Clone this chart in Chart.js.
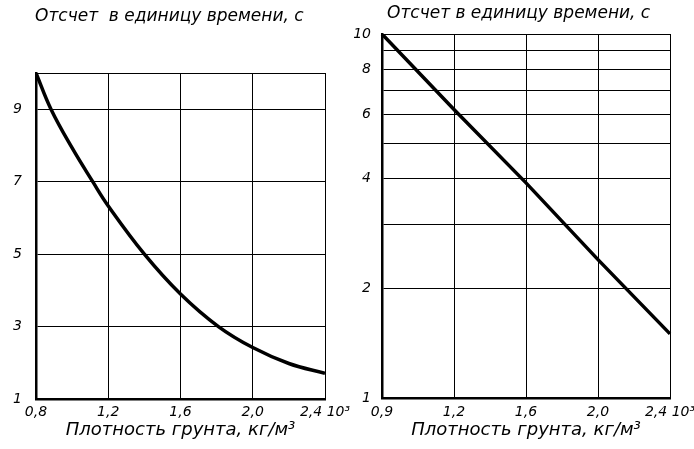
<!DOCTYPE html>
<html>
<head>
<meta charset="utf-8">
<script src="https://cdn.jsdelivr.net/npm/chart.js@4.4.0/dist/chart.umd.min.js"></script>
<style>
  html, body { margin: 0; padding: 0; background: #fff; overflow: hidden; }
  .panel { position: absolute; top: 0; height: 449px; }
  #left { left: 0; width: 362px; }
  #right { left: 347px; width: 347px; }
</style>
</head>
<body>
<div class="panel" id="left"><canvas id="left-chart" width="362" height="449"></canvas></div>
<div class="panel" id="right"><canvas id="right-chart" width="347" height="449"></canvas></div>
<script>
// left panel: linear scales
const leftDensity = [0.8, 0.883, 1.0, 1.114, 1.2, 1.4, 1.6, 1.81, 2.0, 2.2, 2.4];
const leftCount = [10, 9, 7.93, 7, 6.33, 5.0, 3.9, 3.0, 2.42, 1.98, 1.71];
const leftXTicks = [0.8, 1.2, 1.6, 2.0, 2.4];
const leftXLabels = ['0,8', '1,2', '1,6', '2,0', '2,4 10³'];
const leftYTicks = [1, 3, 5, 7, 9, 10];
const leftYLabels = ['1', '3', '5', '7', '9', ''];

// right panel: logarithmic count axis
const rightXLabels = ['0,9', '1,2', '1,6', '2,0', '2,4 10³'];
const rightCount = [10, 6.2, 3.9, 2.4, 1.5];
const rightYTicks = [1, 2, 3, 4, 5, 6, 7, 8, 9, 10];
const rightYLabels = ['1', '2', '', '4', '', '6', '', '8', '', '10'];

const titleText = ['Отсчет  в единицу времени, с', 'Отсчет в единицу времени, с'];
const axisText = 'Плотность грунта, кг/м³';

const fontFamily = "'DejaVu Sans', sans-serif";
Chart.defaults.font.family = fontFamily;
Chart.defaults.font.style = 'italic';
Chart.defaults.color = '#000';

function fixSize(w, h) {
    return function(scale) {
        if (w !== null) scale.width = w;
        if (h !== null) scale.height = h;
        scale.paddingLeft = 0;
        scale.paddingRight = 0;
        scale.paddingTop = 0;
        scale.paddingBottom = 0;
    };
}

// move the chart title so it starts at a given x
function titleAt(x) {
    return { id: 'titleShift', beforeDraw: chart => { chart.titleBlock.left = x; } };
}

const grid = { color: '#000', lineWidth: 1, drawTicks: false };
const border = { color: '#000', width: 2.5 };

new Chart(document.getElementById('left-chart'), {
    type: 'line',
    data: {
        datasets: [{
            data: leftDensity.map((x, i) => ({ x: x, y: leftCount[i] })),
            borderColor: '#000',
            borderWidth: 3.5,
            pointRadius: 0,
            tension: 0.4,
            fill: false
        }]
    },
    options: {
        responsive: false,
        animation: false,
        layout: { padding: { left: 0, right: 37, top: 0, bottom: 0 } },
        plugins: {
            legend: { display: false },
            tooltip: { enabled: false },
            title: {
                display: true,
                text: titleText[0],
                align: 'start',
                font: { size: 17, style: 'italic', weight: 'normal' },
                padding: { top: 6, bottom: 46.6 }
            }
        },
        scales: {
            x: {
                type: 'linear',
                min: 0.8,
                max: 2.4,
                afterBuildTicks: scale => { scale.ticks = leftXTicks.map(v => ({ value: v })); },
                afterFit: fixSize(null, 50),
                ticks: {
                    padding: 5,
                    maxRotation: 0,
                    autoSkip: false,
                    font: { size: 14, style: 'italic' },
                    callback: (v, i) => leftXLabels[i]
                },
                grid: grid,
                border: border,
                title: {
                    display: true,
                    text: axisText,
                    font: { size: 18, style: 'italic' },
                    padding: { top: 0, bottom: 8 }
                }
            },
            y: {
                type: 'linear',
                min: 1,
                max: 10,
                afterBuildTicks: scale => { scale.ticks = leftYTicks.map(v => ({ value: v })); },
                afterFit: fixSize(36, null),
                ticks: {
                    padding: 14,
                    autoSkip: false,
                    font: { size: 14, style: 'italic' },
                    callback: (v, i) => leftYLabels[i]
                },
                grid: grid,
                border: border
            }
        }
    },
    plugins: [titleAt(35)]
});

new Chart(document.getElementById('right-chart'), {
    type: 'line',
    data: {
        labels: rightXLabels,
        datasets: [{
            data: rightCount,
            borderColor: '#000',
            borderWidth: 3.5,
            pointRadius: 0,
            tension: 0,
            fill: false
        }]
    },
    options: {
        responsive: false,
        animation: false,
        layout: { padding: { left: 0, right: 24, top: 0, bottom: 0 } },
        plugins: {
            legend: { display: false },
            tooltip: { enabled: false },
            title: {
                display: true,
                text: titleText[1],
                align: 'start',
                font: { size: 17, style: 'italic', weight: 'normal' },
                padding: { top: 3, bottom: 10.6 }
            }
        },
        scales: {
            x: {
                type: 'category',
                offset: false,
                afterFit: fixSize(null, 51),
                ticks: {
                    padding: 6,
                    maxRotation: 0,
                    autoSkip: false,
                    font: { size: 14, style: 'italic' }
                },
                grid: Object.assign({}, grid, { offset: false }),
                border: border,
                title: {
                    display: true,
                    text: axisText,
                    font: { size: 18, style: 'italic' },
                    padding: { top: 0, bottom: 8 }
                }
            },
            y: {
                type: 'logarithmic',
                min: 1,
                max: 10,
                afterBuildTicks: scale => { scale.ticks = rightYTicks.map(v => ({ value: v })); },
                afterFit: fixSize(35, null),
                ticks: {
                    padding: 11,
                    autoSkip: false,
                    font: { size: 14, style: 'italic' },
                    callback: (v, i) => rightYLabels[i]
                },
                grid: grid,
                border: border
            }
        }
    },
    plugins: [titleAt(40)]
});
</script>
</body>
</html>
